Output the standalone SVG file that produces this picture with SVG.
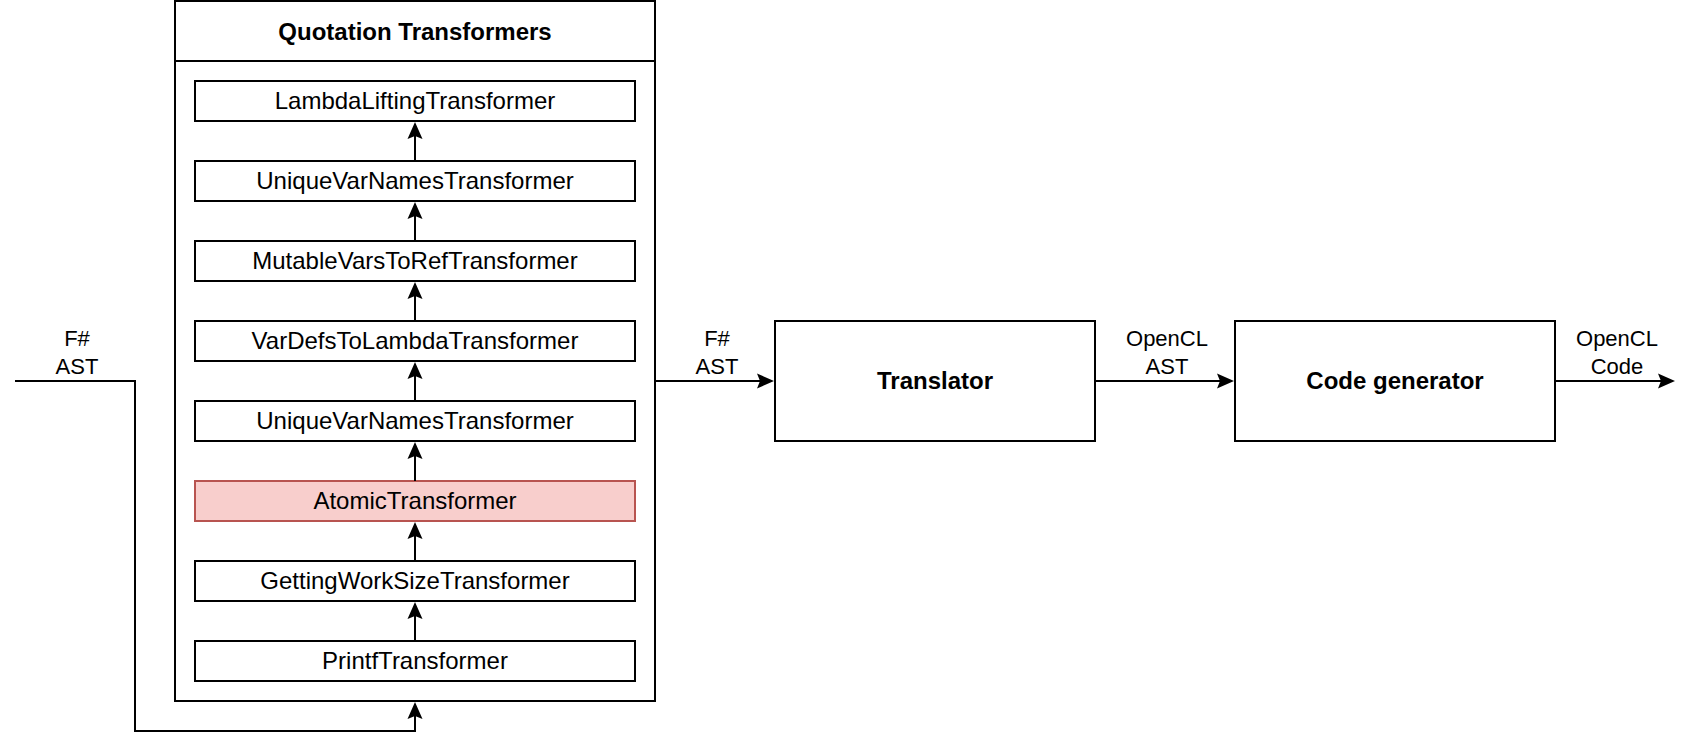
<svg xmlns="http://www.w3.org/2000/svg" width="1692" height="748" viewBox="0 0 1692 748">
  <style>
    .box { fill: #ffffff; stroke: #000000; stroke-width: 2; }
    .hl { fill: #f8cecc; stroke: #b85450; stroke-width: 2; }
    .t { font-family: "Liberation Sans", Arial, Helvetica, sans-serif; font-size: 24px; fill: #000000; text-anchor: middle; }
    .b { font-weight: bold; }
    .lbl { font-family: "Liberation Sans", Arial, Helvetica, sans-serif; font-size: 22px; fill: #000000; text-anchor: middle; }
    .edge { fill: none; stroke: #000000; stroke-width: 2; marker-end: url(#arrow); }
  </style>
  <defs>
    <marker id="arrow" markerUnits="userSpaceOnUse" markerWidth="20" markerHeight="18" viewBox="0 0 20 18" refX="3" refY="9" orient="auto">
      <path d="M17,9 L0,1.5 L3,9 L0,16.5 Z" fill="#000000"/>
    </marker>
  </defs>
  <rect width="1692" height="748" fill="#ffffff"/>

  <g id="quotation-transformers">
    <rect class="box" x="175" y="1" width="480" height="700"/>
    <line x1="175" y1="61" x2="655" y2="61" stroke="#000000" stroke-width="2"/>
    <text class="t b" x="415" y="40">Quotation Transformers</text>
  </g>
  <g id="lambda-lifting">
    <rect class="box" x="195" y="81" width="440" height="40"/>
    <text class="t" x="415" y="109">LambdaLiftingTransformer</text>
  </g>
  <g id="unique-var-names-2">
    <rect class="box" x="195" y="161" width="440" height="40"/>
    <text class="t" x="415" y="189">UniqueVarNamesTransformer</text>
  </g>
  <g id="mutable-vars">
    <rect class="box" x="195" y="241" width="440" height="40"/>
    <text class="t" x="415" y="269">MutableVarsToRefTransformer</text>
  </g>
  <g id="var-defs">
    <rect class="box" x="195" y="321" width="440" height="40"/>
    <text class="t" x="415" y="349">VarDefsToLambdaTransformer</text>
  </g>
  <g id="unique-var-names-1">
    <rect class="box" x="195" y="401" width="440" height="40"/>
    <text class="t" x="415" y="429">UniqueVarNamesTransformer</text>
  </g>
  <g id="atomic">
    <rect class="hl" x="195" y="481" width="440" height="40"/>
    <text class="t" x="415" y="509">AtomicTransformer</text>
  </g>
  <g id="getting-work-size">
    <rect class="box" x="195" y="561" width="440" height="40"/>
    <text class="t" x="415" y="589">GettingWorkSizeTransformer</text>
  </g>
  <g id="printf">
    <rect class="box" x="195" y="641" width="440" height="40"/>
    <text class="t" x="415" y="669">PrintfTransformer</text>
  </g>
  <g id="translator">
    <rect class="box" x="775" y="321" width="320" height="120"/>
    <text class="t b" x="935" y="389">Translator</text>
  </g>
  <g id="code-generator">
    <rect class="box" x="1235" y="321" width="320" height="120"/>
    <text class="t b" x="1395" y="389">Code generator</text>
  </g>

  <g id="connectors">
    <path class="edge" d="M415,161 V136"/>
    <path class="edge" d="M415,241 V216"/>
    <path class="edge" d="M415,321 V296"/>
    <path class="edge" d="M415,401 V376"/>
    <path class="edge" d="M415,481 V456"/>
    <path class="edge" d="M415,561 V536"/>
    <path class="edge" d="M415,641 V616"/>
    <path class="edge" d="M15,381 H135 V731 H415 V716"/>
    <path class="edge" d="M655,381 H760"/>
    <path class="edge" d="M1095,381 H1220"/>
    <path class="edge" d="M1555,381 H1661"/>
    <text class="lbl" x="77" y="346">F#</text>
    <text class="lbl" x="77" y="374">AST</text>
    <text class="lbl" x="717" y="346">F#</text>
    <text class="lbl" x="717" y="374">AST</text>
    <text class="lbl" x="1167" y="346">OpenCL</text>
    <text class="lbl" x="1167" y="374">AST</text>
    <text class="lbl" x="1617" y="346">OpenCL</text>
    <text class="lbl" x="1617" y="374">Code</text>
  </g>
</svg>
